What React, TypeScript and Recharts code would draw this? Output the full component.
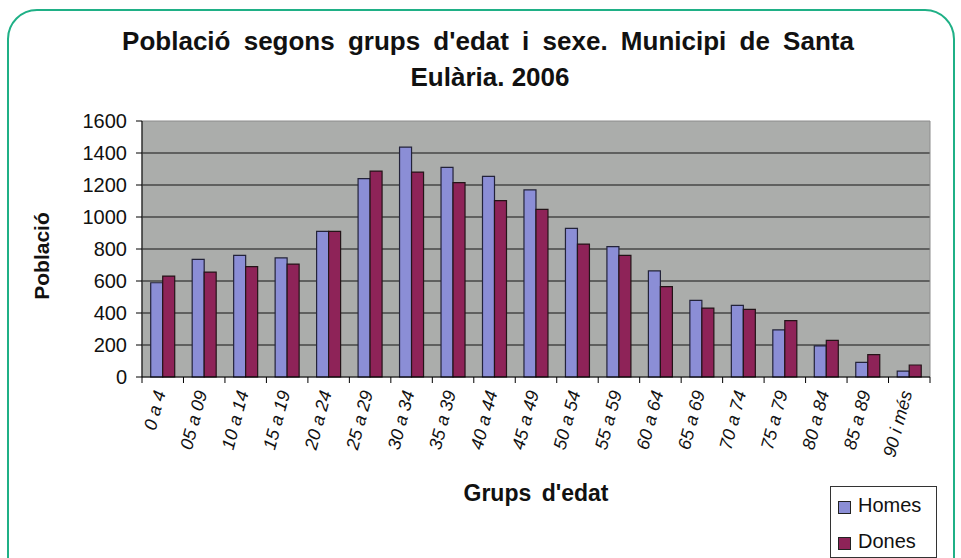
import * as React from "react"
import { BarChart, Bar, XAxis, YAxis, CartesianGrid, Legend, ReferenceArea } from "recharts"

const ageGroups = [
  "0 a 4", "05 a 09", "10 a 14", "15 a 19", "20 a 24", "25 a 29", "30 a 34",
  "35 a 39", "40 a 44", "45 a 49", "50 a 54", "55 a 59", "60 a 64", "65 a 69",
  "70 a 74", "75 a 79", "80 a 84", "85 a 89", "90 i més",
]
const homes = [589, 735, 760, 744, 910, 1240, 1437, 1310, 1254, 1169, 929, 815, 663, 479, 448, 294, 194, 92, 37]
const dones = [631, 656, 690, 706, 910, 1287, 1281, 1215, 1102, 1048, 831, 760, 565, 431, 423, 352, 229, 140, 75]
const seriesOrder = ["Homes", "Dones"]
const yTicks = [0, 200, 400, 600, 800, 1000, 1200, 1400, 1600]
const gridValues = [200, 400, 600, 800, 1000, 1200, 1400]

const data = ageGroups.map((group, i) => ({ group, Homes: homes[i], Dones: dones[i] }))

const font = "'Liberation Sans', Arial, sans-serif"

function AgeTick(props: any) {
  const { x, y, payload, index, width, visibleTicksCount } = props
  const half = payload?.offset || (width && visibleTicksCount ? width / visibleTicksCount / 2 : 20.7)
  const last = index === visibleTicksCount - 1
  return (
    <g>
      <line x1={x - half} y1={y} x2={x - half} y2={y + 6} stroke="#000" />
      {last && <line x1={x + half} y1={y} x2={x + half} y2={y + 6} stroke="#000" />}
      <text
        transform={`translate(${x - 3},${y + 14}) rotate(-75)`}
        textAnchor="end"
        dy="0.35em"
        fontStyle="italic"
        fontSize={18}
        fill="#111"
      >
        {payload.value}
      </text>
    </g>
  )
}

function LegendBox(props: any) {
  const items = [...(props.payload || [])].sort(
    (a: any, b: any) => seriesOrder.indexOf(a.value) - seriesOrder.indexOf(b.value)
  )
  return (
    <div
      style={{
        border: "1.5px solid #333",
        background: "#fff",
        width: 107,
        height: 72,
        boxSizing: "border-box",
        fontFamily: font,
        fontSize: 20,
        color: "#111",
        padding: "0 0 0 7px",
      }}
    >
      {items.map((it: any) => (
        <div key={it.value} style={{ display: "flex", alignItems: "center", height: 36 }}>
          <span
            style={{
              width: 11,
              height: 11,
              background: it.color,
              border: "1px solid #222",
              marginRight: 7,
              marginTop: 5,
            }}
          />
          {it.value}
        </div>
      ))}
    </div>
  )
}

export default function App() {
  return (
    <div style={{ position: "absolute", left: 0, top: 0, width: 961, height: 558, overflow: "hidden", background: "#fff" }}>
      <div
        style={{
          position: "absolute",
          left: 7,
          top: 9,
          width: 944,
          height: 620,
          border: "2.5px solid #1fb086",
          borderRadius: 30,
        }}
      />
      <BarChart
        width={961}
        height={558}
        data={data}
        margin={{ top: 121, right: 31, left: 82, bottom: 81 }}
        barCategoryGap="21%"
        barGap={0}
        style={{ fontFamily: font, position: "absolute", left: 0, top: 0 }}
      >
        <CartesianGrid vertical={false} horizontalValues={gridValues} stroke="#151515" strokeWidth={1.2} fill="#abadab" fillOpacity={1} />
        <ReferenceArea y1={0} y2={1600} fill="none" stroke="#8c8c8c" strokeWidth={1} ifOverflow="visible" />
        <XAxis
          dataKey="group"
          interval={0}
          tickLine={false}
          tickSize={0}
          tickMargin={0}
          height={100}
          axisLine={{ stroke: "#000" }}
          tick={<AgeTick />}
        />
        <YAxis
          domain={[0, 1600]}
          ticks={yTicks}
          width={60}
          tickSize={6}
          tickMargin={9}
          axisLine={{ stroke: "#000" }}
          tickLine={{ stroke: "#000" }}
          tick={{ fill: "#111", fontSize: 20 }}
        />
        <Legend
          layout="horizontal"
          verticalAlign="middle"
          align="center"
          wrapperStyle={{ left: 830, top: 486, width: 107, height: 72 }}
          content={<LegendBox />}
        />
        <Bar dataKey="Homes" fill="#8b8ed6" stroke="#23233a" strokeWidth={1.2} isAnimationActive={false} />
        <Bar dataKey="Dones" fill="#8e2358" stroke="#241418" strokeWidth={1.2} isAnimationActive={false} />
      </BarChart>
      <svg width={961} height={558} style={{ position: "absolute", left: 0, top: 0, pointerEvents: "none" }}>
        <g fontFamily={font} fontWeight="bold" fill="#111">
          <text x={488} y={50} fontSize={26} textAnchor="middle" style={{ wordSpacing: 6 }}>
            Població segons grups d'edat i sexe. Municipi de Santa
          </text>
          <text x={490} y={86} fontSize={26} textAnchor="middle">
            Eulària. 2006
          </text>
          <text x={536} y={501} fontSize={23} textAnchor="middle" style={{ wordSpacing: 4 }}>
            Grups d'edat
          </text>
          <text transform="translate(49,256) rotate(-90)" fontSize={21} textAnchor="middle">
            Població
          </text>
        </g>
      </svg>
    </div>
  )
}
